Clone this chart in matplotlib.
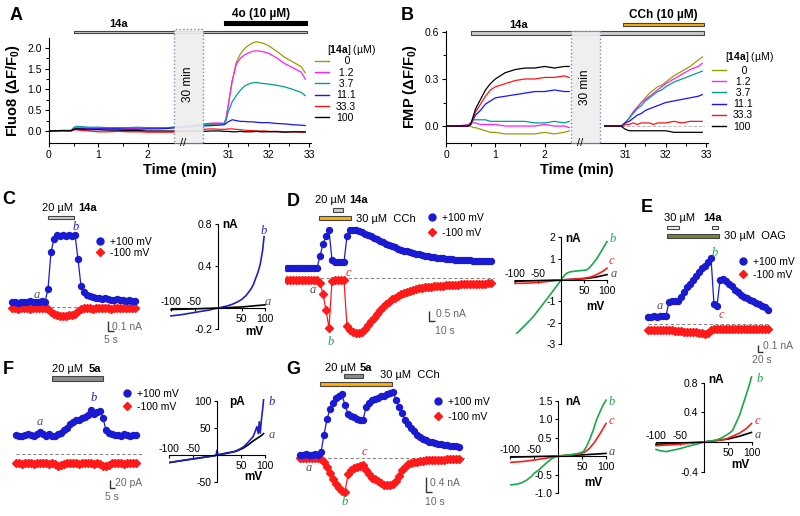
import numpy as np
import matplotlib
matplotlib.use('Agg')
import matplotlib.pyplot as plt
from matplotlib.patches import Rectangle
from matplotlib.lines import Line2D

plt.rcParams['font.family'] = ['Liberation Sans', 'DejaVu Sans']
plt.rcParams['mathtext.fontset'] = 'custom'
plt.rcParams['mathtext.rm'] = 'Liberation Sans'
plt.rcParams['mathtext.bf'] = 'Liberation Sans:bold'
plt.rcParams['axes.unicode_minus'] = False

# ---------------- A / B : plate reader traces ----------------
conc_labels = ['   0', ' 1.2', ' 3.7', '11.1', '33.3', '100']
conc_colors = ['#9c9c00', '#ff1cff', '#009c9c', '#1414ff', '#ff1414', '#000000']

t_early = [0, 0.25, 0.45, 0.5, 0.55, 0.6, 0.7, 0.8, 0.9, 1.0, 1.2, 1.4, 1.6, 1.8, 2.0, 2.2, 2.4, 2.5]
t_late_a = [30.4, 30.6, 30.8, 30.9, 30.95, 31.0, 31.1, 31.2, 31.3, 31.4, 31.5, 31.6, 31.7, 31.8,
            31.9, 32.0, 32.2, 32.4, 32.6, 32.8, 32.9]
t_late_b = [30.5, 30.7, 30.9, 30.95, 31.0, 31.1, 31.2, 31.3, 31.4, 31.5, 31.6, 31.7, 31.8, 31.9,
            32.0, 32.2, 32.4, 32.6, 32.8, 32.9]

fluo_early = [
    [0.00, 0.01, 0.01, 0.06, 0.08, 0.08, 0.08, 0.07, 0.07, 0.07, 0.07, 0.06, 0.07, 0.07, 0.07, 0.07, 0.07, 0.08],
    [0.00, 0.01, 0.01, 0.04, 0.05, 0.05, 0.06, 0.06, 0.06, 0.06, 0.06, 0.06, 0.06, 0.07, 0.07, 0.07, 0.08, 0.08],
    [0.00, 0.01, 0.01, 0.08, 0.11, 0.11, 0.10, 0.09, 0.09, 0.09, 0.08, 0.08, 0.08, 0.09, 0.08, 0.08, 0.08, 0.09],
    [0.00, 0.01, 0.00, 0.03, 0.05, 0.05, 0.05, 0.05, 0.05, 0.05, 0.05, 0.05, 0.04, 0.04, 0.05, 0.05, 0.06, 0.07],
    [0.00, 0.00, 0.00, 0.02, 0.03, 0.02, 0.01, 0.00, -0.01, -0.02, -0.02, -0.01, -0.02, -0.02, -0.03, -0.03, -0.03, -0.03],
    [0.00, 0.01, 0.01, 0.04, 0.05, 0.05, 0.04, 0.03, 0.03, 0.03, 0.02, 0.02, 0.01, 0.01, 0.00, 0.00, 0.00, 0.00],
]
fluo_late = [
    [0.15, 0.16, 0.17, 0.17, 0.30, 0.60, 1.20, 1.65, 1.85, 1.98, 2.06, 2.12, 2.15, 2.13, 2.10, 2.05, 1.92, 1.77, 1.66, 1.55, 1.40],
    [0.17, 0.19, 0.19, 0.18, 0.30, 0.60, 1.20, 1.60, 1.75, 1.83, 1.88, 1.92, 1.93, 1.92, 1.90, 1.87, 1.76, 1.62, 1.52, 1.42, 1.25],
    [0.15, 0.17, 0.18, 0.18, 0.25, 0.45, 0.70, 0.85, 0.98, 1.08, 1.13, 1.16, 1.17, 1.15, 1.14, 1.13, 1.10, 1.06, 1.00, 0.93, 0.85],
    [0.12, 0.13, 0.14, 0.15, 0.18, 0.22, 0.27, 0.25, 0.23, 0.23, 0.22, 0.22, 0.21, 0.20, 0.20, 0.20, 0.18, 0.17, 0.15, 0.14, 0.13],
    [0.04, 0.05, 0.04, 0.04, 0.04, 0.05, 0.05, 0.04, 0.03, 0.02, 0.01, 0.01, 0.00, 0.00, 0.00, -0.01, -0.01, -0.02, -0.02, -0.03, -0.03],
    [-0.01, 0.00, 0.00, -0.01, -0.01, -0.01, -0.02, -0.02, -0.01, -0.02, -0.02, -0.02, -0.01, -0.02, -0.02, -0.02, -0.02, -0.03, -0.02, -0.02, -0.02],
]
fmp_early = [
    [0.00, 0.00, 0.00, 0.00, -0.01, -0.01, -0.02, -0.03, -0.04, -0.04, -0.05, -0.05, -0.05, -0.05, -0.04, -0.05, -0.04, -0.03],
    [0.00, 0.00, 0.01, 0.02, 0.02, 0.02, 0.01, 0.01, 0.01, 0.01, 0.00, 0.00, 0.00, 0.00, 0.01, 0.00, 0.00, -0.01],
    [0.00, 0.00, 0.00, 0.02, 0.04, 0.04, 0.04, 0.04, 0.03, 0.03, 0.03, 0.03, 0.03, 0.02, 0.02, 0.03, 0.02, 0.03],
    [0.00, 0.00, 0.00, 0.01, 0.04, 0.07, 0.10, 0.14, 0.16, 0.18, 0.19, 0.20, 0.21, 0.22, 0.22, 0.23, 0.22, 0.22],
    [0.00, 0.00, 0.00, 0.01, 0.05, 0.09, 0.14, 0.19, 0.23, 0.25, 0.27, 0.29, 0.30, 0.30, 0.31, 0.31, 0.32, 0.31],
    [0.00, 0.00, 0.00, 0.01, 0.06, 0.11, 0.17, 0.23, 0.27, 0.30, 0.34, 0.36, 0.37, 0.37, 0.38, 0.37, 0.38, 0.38],
]
fmp_late = [
    [0.00, 0.00, 0.00, 0.01, 0.02, 0.05, 0.09, 0.12, 0.15, 0.18, 0.21, 0.23, 0.25, 0.26, 0.28, 0.32, 0.35, 0.38, 0.42, 0.44],
    [0.00, 0.00, 0.00, 0.01, 0.02, 0.05, 0.09, 0.12, 0.15, 0.17, 0.19, 0.21, 0.23, 0.25, 0.27, 0.30, 0.33, 0.36, 0.38, 0.40],
    [0.00, 0.00, 0.00, 0.01, 0.02, 0.05, 0.08, 0.11, 0.13, 0.16, 0.18, 0.20, 0.22, 0.23, 0.25, 0.28, 0.30, 0.32, 0.34, 0.35],
    [0.00, 0.00, 0.00, 0.01, 0.02, 0.03, 0.05, 0.07, 0.08, 0.10, 0.11, 0.12, 0.13, 0.14, 0.15, 0.16, 0.17, 0.18, 0.19, 0.20],
    [0.00, 0.00, 0.00, 0.00, 0.01, 0.01, 0.02, 0.01, 0.02, 0.02, 0.02, 0.01, 0.02, 0.02, 0.02, 0.03, 0.02, 0.03, 0.03, 0.03],
    [0.00, 0.00, 0.00, -0.01, -0.02, -0.03, -0.03, -0.03, -0.03, -0.03, -0.03, -0.03, -0.03, -0.03, -0.03, -0.04, -0.04, -0.04, -0.04, -0.04],
]

# ---------------- C-G : whole-cell currents at +/-100 mV (sampling step in s) ----------------
c_dt = 2.5
c_pos = [0.05, 0.05, 0.04, 0.05, 0.05, 0.05, 0.06, 0.05, 0.05, 0.05, 0.06, 0.05,
         0.18, 0.55, 0.68, 0.72, 0.71, 0.72, 0.71, 0.72, 0.71, 0.72,
         0.48, 0.21, 0.15, 0.12, 0.11, 0.10, 0.09, 0.09, 0.08, 0.09, 0.08, 0.07, 0.07, 0.08, 0.07, 0.07, 0.06, 0.07, 0.06, 0.06]
c_neg = [-0.01, -0.01, -0.02, -0.01, -0.01, -0.01, -0.02, -0.01, -0.01, -0.01, -0.01, -0.01,
         -0.02, -0.05, -0.07, -0.08, -0.09, -0.09, -0.09, -0.08, -0.08, -0.07, -0.04, -0.02,
         -0.01, -0.01, -0.01, -0.02, -0.01, -0.01, -0.01, -0.01, -0.01, -0.02, -0.01, -0.01, -0.01, -0.01, -0.01, -0.01, -0.01, -0.01]

d_dt = 5
d_pos = [0.50, 0.52, 0.50, 0.48, 0.50, 0.50, 0.52, 0.50, 0.50, 0.50, 0.52,
         1.10, 1.70, 2.10, 2.40, 0.90,
         0.80, 0.78, 0.78, 0.80,
         2.10, 2.40, 2.42, 2.38, 2.33, 2.28, 2.22, 2.15, 2.08, 2.00, 1.93,
         1.85, 1.78, 1.72, 1.66, 1.60, 1.53, 1.47, 1.42, 1.37, 1.33, 1.29, 1.24, 1.21, 1.18, 1.15,
         1.12, 1.09, 1.07, 1.05, 1.02, 1.00, 0.98, 0.96, 0.95, 0.93, 0.92, 0.91, 0.90, 0.90, 0.88,
         0.88, 0.87, 0.86, 0.86, 0.85, 0.86, 0.85, 0.85]
d_neg = [-0.10, -0.08, -0.10, -0.12, -0.10, -0.10, -0.08, -0.10, -0.10, -0.12, -0.12,
         -0.25, -0.80, -1.60, -2.50, -0.15,
         -0.12, -0.10, -0.10, -0.12,
         -2.40, -2.62, -2.72, -2.77, -2.75, -2.70, -2.55, -2.35, -2.15, -1.98,
         -1.80, -1.60, -1.45, -1.32, -1.20, -1.07, -0.98, -0.90, -0.82, -0.74,
         -0.68, -0.63, -0.59, -0.55, -0.52, -0.50, -0.47, -0.45, -0.43, -0.41,
         -0.40, -0.39, -0.38, -0.36, -0.35, -0.34, -0.33, -0.33, -0.32, -0.32,
         -0.31, -0.30, -0.30, -0.29, -0.29, -0.28, -0.28, -0.27, -0.27]

e_dt = 12
e_pos = [0.11, 0.11, 0.12, 0.11, 0.12, 0.12, 0.13, 0.34, 0.36, 0.36, 0.35,
         0.42, 0.50, 0.57, 0.62, 0.67, 0.74, 0.80, 0.86, 0.90, 0.96, 1.02,
         0.30, 0.27,
         0.68, 0.70, 0.66, 0.61, 0.58, 0.53, 0.49, 0.45, 0.42, 0.40, 0.37, 0.35, 0.33, 0.31, 0.28, 0.26, 0.22]
e_neg = [-0.09, -0.09, -0.10, -0.09, -0.09, -0.09, -0.10, -0.10, -0.10, -0.11, -0.11,
         -0.11, -0.12, -0.12, -0.12, -0.13, -0.13, -0.14, -0.14, -0.15, -0.14,
         -0.09, -0.08, -0.08, -0.08, -0.08, -0.08, -0.08, -0.08, -0.08, -0.08,
         -0.08, -0.08, -0.08, -0.08, -0.08, -0.08, -0.08, -0.08, -0.08, -0.08]

f_dt = 3
f_pos = [45, 44, 42, 46, 48, 45, 44, 47, 52, 48, 44, 48, 42, 43, 47, 50, 56, 62, 72, 76, 80,
         82, 86, 89, 92, 105, 96, 100, 102, 85, 57, 50, 47, 45, 46, 44, 47, 45, 44, 46, 45]
f_neg = [-22, -21, -23, -22, -21, -22, -23, -22, -21, -22, -22, -23, -22, -24, -28, -27, -24, -22, -21, -22, -22,
         -23, -22, -21, -22, -22, -23, -22, -24, -28, -29, -25, -22, -22, -21, -22, -23, -22, -21, -22, -22]

g_dt = 5
g_pos = [0.09, 0.09, 0.10, 0.09, 0.09, 0.10, 0.09,
         0.15, 0.60, 1.00, 1.25, 1.42, 1.55, 1.60, 1.63,
         1.35, 1.13, 1.08, 1.04, 1.00, 0.98, 0.97,
         1.30, 1.42, 1.48, 1.52, 1.55, 1.58, 1.60, 1.63, 1.66, 1.70,
         1.50, 1.32, 1.15, 0.98, 0.88, 0.78, 0.68, 0.59, 0.53, 0.48,
         0.45, 0.42, 0.40, 0.38, 0.36, 0.35, 0.34, 0.33, 0.32, 0.31, 0.30, 0.29]
g_neg = [0.00, -0.01, 0.00, -0.01, 0.00, 0.00, -0.01,
         -0.02, -0.10, -0.22, -0.38, -0.55, -0.66, -0.76, -0.84, -0.86,
         -0.42, -0.32, -0.26, -0.22, -0.20, -0.18,
         -0.30, -0.42, -0.50, -0.55, -0.60, -0.65, -0.68, -0.69, -0.68, -0.66,
         -0.58, -0.45, -0.32, -0.22, -0.16, -0.12, -0.10, -0.09, -0.08, -0.07,
         -0.06, -0.06, -0.05, -0.05, -0.04, -0.04, -0.04, -0.03, -0.03, -0.03, -0.03, -0.03]

# ---------------- I-V ramps ----------------
iv_c_v_b = [-100, -80, -60, -40, -20, 0, 20, 30, 40, 50, 60, 70, 75, 80, 85, 90, 95, 98]
iv_c_i_b = [-0.075, -0.065, -0.05, -0.035, -0.02, 0.0, 0.02, 0.035, 0.055, 0.08, 0.12, 0.18, 0.22, 0.28, 0.34, 0.42, 0.55, 0.68]
iv_c_v_a = [-100, -50, 0, 50, 100]
iv_c_i_a = [-0.015, -0.008, 0.0, 0.01, 0.03]

iv_d_v_b = [-96, -80, -60, -40, -24, -10, 0, 6, 12, 20, 34, 45, 56, 63, 70, 78, 85, 92, 100]
iv_d_i_b = [-2.49, -2.15, -1.71, -1.15, -0.70, -0.30, 0.0, 0.18, 0.31, 0.38, 0.42, 0.44, 0.47, 0.60, 0.78, 1.00, 1.25, 1.50, 1.79]
iv_d_v_c = [-100, -75, -50, -25, 0, 25, 50, 65, 75, 85, 92, 100]
iv_d_i_c = [-0.16, -0.15, -0.12, -0.06, 0.0, 0.03, 0.08, 0.14, 0.23, 0.33, 0.42, 0.55]
iv_d_v_a = [-100, -50, 0, 50, 75, 100]
iv_d_i_a = [-0.06, -0.03, 0.0, 0.06, 0.13, 0.25]

iv_e_v_b = [-100, -90, -78, -65, -50, -35, -22, -10, 0, 15, 26, 38, 47, 55, 60, 67, 74, 81, 88, 94, 99]
iv_e_i_b = [-0.10, -0.12, -0.13, -0.11, -0.09, -0.06, -0.04, -0.02, 0.0, 0.015, 0.027, 0.06, 0.095, 0.13, 0.16, 0.26, 0.36, 0.50, 0.64, 0.76, 0.88]
iv_e_v_c = [-100, -75, -50, -25, 0, 25, 46, 60, 74, 88, 99]
iv_e_i_c = [-0.05, -0.04, -0.03, -0.015, 0.0, 0.02, 0.04, 0.08, 0.12, 0.18, 0.25]
iv_e_v_a = [-100, -50, 0, 50, 75, 99]
iv_e_i_a = [-0.03, -0.015, 0.0, 0.04, 0.08, 0.13]

iv_f_v_b = [-98, -85, -70, -55, -40, -25, -10, -2, 0, 2, 10, 20, 35, 45, 55, 62, 69, 75, 80, 83, 86, 88, 90, 93, 95, 97]
iv_f_i_b = [-14, -12, -10, -8, -6, -4, -2, -1, 9, 0, 2, 4, 6, 10, 15, 21, 28, 34, 45, 53, 40, 62, 41, 70, 85, 103]
iv_f_v_a = [-98, -70, -40, -10, 0, 20, 40, 55, 65, 75, 85, 92, 97]
iv_f_i_a = [-14, -10, -6, -2, 0, 3, 7, 13, 19, 26, 32, 36, 40]

iv_g_v_b = [-98, -85, -75, -65, -55, -50, -40, -33, -25, -12, 0, 15, 30, 45, 53, 60, 67, 74, 80, 87, 94, 100]
iv_g_i_b = [-0.78, -0.76, -0.72, -0.65, -0.55, -0.47, -0.38, -0.29, -0.20, -0.06, 0.0, 0.02, 0.04, 0.08, 0.12, 0.27, 0.48, 0.72, 0.97, 1.18, 1.38, 1.51]
iv_g_v_c = [-98, -75, -50, -25, 0, 25, 45, 55, 65, 75, 85, 92, 100]
iv_g_i_c = [-0.17, -0.15, -0.11, -0.06, 0.0, 0.03, 0.06, 0.10, 0.20, 0.35, 0.55, 0.70, 0.88]
iv_g_v_a = [-98, -50, 0, 50, 100]
iv_g_i_a = [-0.03, -0.015, 0.0, 0.03, 0.07]

BLUE = '#1a1ad2'
RED = '#ff1a1a'
GREEN = '#19a84a'
GREY_TXT = '#555555'
ORANGE = '#ffb000'

W, H = 800, 516
fig = plt.figure(figsize=(8, 5.16), dpi=100)


def px_axes(l, t, r, b):
    ax = fig.add_axes([l / W, 1 - b / H, (r - l) / W, (b - t) / H])
    ax.patch.set_visible(False)
    return ax


def ftext(x, y, s, **kw):
    fig.text(x / W, 1 - y / H, s, **kw)


def letter(ax, x, y, s, color):
    ax.text(x, y, s, color=color, fontfamily='Liberation Serif', style='italic',
            fontsize=9, ha='center', va='center')


def bar(ax, x0, x1, y0, h, fc, ec='#444444'):
    ax.add_patch(Rectangle((x0, y0), x1 - x0, h, facecolor=fc, edgecolor=ec, lw=0.8,
                           clip_on=False, zorder=4))


# broken time axis for A and B (0-2.5 min | 30 min gap | 30.4-33 min)
TB = [-10.0, 2.53, 30.375, 40.0]
UB = [-10.0 * 49.3, 2.53 * 49.3, 2.53 * 49.3 + 29.0, 2.53 * 49.3 + 29.0 + 9.625 * 40.6]


def fwd(t):
    return np.interp(t, TB, UB)


def inv(u):
    return np.interp(u, UB, TB)


AX_W = float(fwd(33.05) - fwd(0))


def time_axes(ax, ylim, yticks, ylabels, yminor, box_top, box_text_y, ylabel):
    ax.set_xlim(0, 33.05)
    ax.set_ylim(*ylim)
    for s in ('top', 'right'):
        ax.spines[s].set_visible(False)
    ax.set_xticks([0, 1, 2, 31, 32, 33], ['0', '1', '2', '31', '32', '33'])
    ax.set_xticks([0.5, 1.5, 31.5, 32.5], minor=True)
    ax.set_yticks(yticks, ylabels)
    ax.set_yticks(yminor, minor=True)
    ax.tick_params(labelsize=7.5, length=3, width=0.8, pad=2)
    ax.tick_params(which='minor', length=2, width=0.7)
    ax.set_xlabel('Time (min)', fontsize=10.5, fontweight='bold', labelpad=2)
    ax.set_ylabel(ylabel, fontsize=10.5, fontweight='bold', labelpad=4)
    ax.add_patch(Rectangle((2.53, ylim[0]), 30.375 - 2.53, box_top - ylim[0], facecolor='#eeeeee',
                           edgecolor='#6f86a8', lw=1.0, ls=':', alpha=0.93, clip_on=False, zorder=6))
    ax.text(16.45, box_text_y, '30 min', rotation=90, fontsize=8.5, ha='center', va='center', zorder=7)
    ax.text(11.2, ylim[0], '//', fontsize=8, ha='center', va='center', zorder=7, clip_on=False)


# ---- panel A ----
axA = px_axes(49, 38, 49 + AX_W, 143)
axA.set_xscale('function', functions=(fwd, inv))
for row_e, row_l, col in zip(fluo_early, fluo_late, conc_colors):
    axA.plot(t_early + t_late_a, row_e + row_l, color=col, lw=0.9)
time_axes(axA, (-0.29, 2.24), [0, 0.5, 1, 1.5, 2], ['0.0', '0.5', '1.0', '1.5', '2.0'],
          [0.25, 0.75, 1.25, 1.75], 2.45, 1.13, 'Fluo8 (ΔF/F$_\\mathbf{0}$)')
bar(axA, 0.5, 32.95, 2.35, 0.065, '#cccccc')
bar(axA, 30.9, 32.95, 2.55, 0.1, '#000000', ec='#000000')
axA.text(1.42, 2.57, '14a', fontsize=8, fontweight='bold', ha='center', va='center')
axA.text(31.8, 2.81, '4o (10 µM)', fontsize=8.5, fontweight='bold', ha='center', va='center')

# ---- panel B ----
axB = px_axes(446, 31, 446 + AX_W, 143)
axB.set_xscale('function', functions=(fwd, inv))
axB.hlines(0, 30.9, 32.95, colors='#bbbbbb', linestyles='--', lw=0.7)
for row_e, row_l, col in zip(fmp_early, fmp_late, conc_colors):
    axB.plot(t_early, row_e, color=col, lw=0.9)
    axB.plot(t_late_b, row_l, color=col, lw=0.9)
time_axes(axB, (-0.108, 0.606), [0, 0.3, 0.6], ['0.0', '0.3', '0.6'],
          [0.15, 0.45], 0.606, 0.25, 'FMP (ΔF/F$_\\mathbf{0}$)')
bar(axB, 0.5, 32.95, 0.58, 0.025, '#cccccc')
bar(axB, 30.94, 32.95, 0.637, 0.02, ORANGE)
axB.text(1.48, 0.645, '14a', fontsize=8, fontweight='bold', ha='center', va='center')
axB.text(31.95, 0.708, 'CCh (10 µM)', fontsize=8.5, fontweight='bold', ha='center', va='center')

# concentration legends
handles = [Line2D([], [], color=c, lw=1.0) for c in conc_colors]
for lx, ly, tx, ty in ((315, 56.5, 351, 50), (712, 65.5, 749, 57)):
    fig.legend(handles, conc_labels, loc='upper left', bbox_to_anchor=(lx / W, 1 - ly / H),
               frameon=False, fontsize=7.5, handlelength=1.3, handletextpad=0.7,
               labelspacing=0.12, borderpad=0, borderaxespad=0)
    ftext(tx, ty, '[$\\mathbf{14a}$] (µM)', fontsize=7.5, ha='center', va='center')

# ---- current-trace panels ----
mv_handles = [Line2D([], [], color=BLUE, marker='o', ls='none', ms=5),
              Line2D([], [], color=RED, marker='D', ls='none', ms=4)]


def trace_axes(box, xlim, ylim, dt, pos, neg, zero_end, leg_xy, leg_space):
    ax = px_axes(*box)
    ax.set_xlim(*xlim)
    ax.set_ylim(*ylim)
    ax.axis('off')
    ax.hlines(0, 0, zero_end, colors='#888888', linestyles=(0, (3, 2)), lw=0.8, zorder=1)
    ax.plot(dt * np.arange(len(neg)), neg, color=RED, lw=0.9, marker='D', ms=3.8, zorder=2)
    ax.plot(dt * np.arange(len(pos)), pos, color=BLUE, lw=0.9, marker='o', ms=4.3, zorder=3)
    ax.legend(mv_handles, ['+100 mV', '-100 mV'], loc='upper left',
              bbox_to_anchor=(leg_xy[0] / W, 1 - leg_xy[1] / H), bbox_transform=fig.transFigure,
              frameon=False, fontsize=7.5, handlelength=0.8, handletextpad=0.5,
              labelspacing=leg_space, borderpad=0, borderaxespad=0)
    return ax


def scalebar(ax, x, y, dx, dy, ylab, xlab, ylab_xy, xlab_xy):
    ax.plot([x, x, x + dx], [y + dy, y, y], color='#333333', lw=1.0, solid_capstyle='butt')
    ax.text(ylab_xy[0], ylab_xy[1], ylab, color='#666666', fontsize=7.5, ha='left', va='center')
    ax.text(xlab_xy[0], xlab_xy[1], xlab, color='#666666', fontsize=7.5, ha='center', va='center')


def iv_axes(box, xlim, ylim, yticks, ylabels, ybounds, unit, unit_xy, mv_xy):
    ax = px_axes(*box)
    ax.set_xlim(*xlim)
    ax.set_ylim(*ylim)
    for s in ('top', 'right'):
        ax.spines[s].set_visible(False)
    ax.spines['left'].set_position(('data', 0))
    ax.spines['bottom'].set_position(('data', 0))
    ax.spines['left'].set_bounds(*ybounds)
    ax.spines['bottom'].set_bounds(-100, 100)
    ax.set_yticks(yticks, ylabels)
    ax.set_xticks([-100, -50, 50, 100], ['', '', '50', '100'])
    ax.tick_params(labelsize=7.5, length=2.5, width=0.8, pad=1.5)
    for v in (-100, -50):
        ax.annotate(str(v), (v, 0), xytext=(0, 1.0), textcoords='offset points',
                    ha='center', va='bottom', fontsize=7.5)
    ax.text(unit_xy[0], unit_xy[1], unit, fontweight='bold', fontsize=8.5, ha='left', va='center')
    ax.text(mv_xy[0], mv_xy[1], 'mV', fontweight='bold', fontsize=8.5, ha='center', va='center')
    return ax


# ---- panel C ----
axC = trace_axes((5, 195, 150, 350), (-5.83, 115), (-0.43, 1.12), c_dt, c_pos, c_neg, 107,
                 (96, 237), 0.1)
bar(axC, 30, 51.7, 0.88, 0.03, '#cccccc')
axC.text(37.9, 0.99, '20 µM', fontsize=8, ha='center', va='center')
axC.text(63, 0.99, '14a', fontsize=8, fontweight='bold', ha='center', va='center')
letter(axC, 20.8, 0.12, 'a', GREY_TXT)
letter(axC, 53.3, 0.8, 'b', BLUE)
scalebar(axC, 80, -0.24, 5, 0.1, '0.1 nA', '5 s', (83.3, -0.20), (82.5, -0.33))

ivC = iv_axes((165, 220, 272, 335), (-112.8, 114.9), (-0.257, 0.838), [-0.2, 0.4, 0.8],
              ['-0.2', '0.4', '0.8'], (-0.2, 0.8), 'nA', (10, 0.79), (77, -0.23))
ivC.plot(iv_c_v_a, iv_c_i_a, color='k', lw=1.2)
ivC.plot(iv_c_v_b, iv_c_i_b, color='#2020c0', lw=1.2)
letter(ivC, 97, 0.73, 'b', '#2020c0')
letter(ivC, 105, 0.06, 'a', GREY_TXT)

# ---- panel D ----
axD = trace_axes((285, 195, 500, 350), (-3.33, 355), (-3.6, 4.15), d_dt, d_pos, d_neg, 345,
                 (428, 213), 0.45)
bar(axD, 76.7, 93.3, 3.3, 0.2, '#cccccc')
bar(axD, 53.3, 106.7, 2.9, 0.2, ORANGE)
axD.text(71.7, 3.9, '20 µM', fontsize=8, ha='center', va='center')
axD.text(120, 3.9, '14a', fontsize=8, fontweight='bold', ha='center', va='center')
axD.text(115, 2.93, '30 µM  CCh', fontsize=8, ha='left', va='center')
letter(axD, 42.8, -0.6, 'a', GREY_TXT)
letter(axD, 72.8, -3.18, 'b', GREEN)
letter(axD, 102, 0.23, 'c', RED)
scalebar(axD, 236.7, -2.15, 10, 0.5, '0.5 nA', '10 s', (249, -1.82), (263, -2.65))

ivD = iv_axes((510, 235, 615, 350), (-110.9, 117.4), (-3.27, 2.1), [-3, -2, -1, 1, 2],
              ['-3', '-2', '-1', '1', '2'], (-3, 2), 'nA', (8.7, 1.92), (74, -1.26))
ivD.plot(iv_d_v_a, iv_d_i_a, color='k', lw=1.2)
ivD.plot(iv_d_v_c, iv_d_i_c, color=RED, lw=1.2)
ivD.plot(iv_d_v_b, iv_d_i_b, color=GREEN, lw=1.2)
letter(ivD, 112, 1.9, 'b', GREEN)
letter(ivD, 109, 0.9, 'c', RED)
letter(ivD, 114, 0.3, 'a', GREY_TXT)

# ---- panel E ----
axE = trace_axes((640, 200, 790, 365), (-32, 568), (-0.631, 1.908), e_dt, e_pos, e_neg, 488,
                 (739, 257), 0.3)
bar(axE, 77, 125, 1.46, 0.05, '#f2f2f2')
bar(axE, 257, 281, 1.46, 0.05, '#f2f2f2')
bar(axE, 77, 285, 1.33, 0.05, '#6f8a2e')
axE.text(128, 1.63, '30 µM', fontsize=8, ha='center', va='center')
axE.text(258, 1.63, '14a', fontsize=8, fontweight='bold', ha='center', va='center')
axE.text(304, 1.36, '30 µM  OAG', fontsize=8, ha='left', va='center')
letter(axE, 48, 0.28, 'a', GREY_TXT)
letter(axE, 265, 1.09, 'b', GREEN)
letter(axE, 295, 0.14, 'c', RED)
scalebar(axE, 441, -0.43, 20, 0.1, '0.1 nA', '20 s', (461, -0.34), (455, -0.55))

ivE = iv_axes((650, 375, 760, 478), (-112.5, 116.7), (-0.486, 0.905), [-0.4, 0.4, 0.8],
              ['-0.4', '0.4', '0.8'], (-0.4, 0.8), 'nA', (8.3, 0.84), (75, -0.31))
ivE.plot(iv_e_v_a, iv_e_i_a, color='k', lw=1.2)
ivE.plot(iv_e_v_c, iv_e_i_c, color=RED, lw=1.2)
ivE.plot(iv_e_v_b, iv_e_i_b, color=GREEN, lw=1.2)
letter(ivE, 115, 0.85, 'b', GREEN)
letter(ivE, 112, 0.28, 'c', RED)
letter(ivE, 113, 0.1, 'a', GREY_TXT)

# ---- panel F ----
axF = trace_axes((5, 360, 150, 505), (-11, 134), (-121.4, 223.8), f_dt, f_pos, f_neg, 127,
                 (123, 389), 0.3)
bar(axF, 36, 87, 173.8, 11.9, '#8c8c8c')
axF.text(51, 202, '20 µM', fontsize=8, ha='center', va='center')
axF.text(79, 202, '5a', fontsize=8, fontweight='bold', ha='center', va='center')
letter(axF, 23.3, 77, 'a', GREY_TXT)
letter(axF, 77.3, 132.5, 'b', BLUE)
scalebar(axF, 94, -82, 5, 20, '20 pA', '5 s', (99, -70), (95.7, -101.6))

ivF = iv_axes((165, 395, 275, 490), (-108.3, 120.8), (-65.4, 112.1), [-50, 50, 100],
              ['-50', '50', '100'], (-50, 100), 'pA', (25, 99.6), (75, -42))
ivF.plot(iv_f_v_a, iv_f_i_a, color='k', lw=1.2)
ivF.plot(iv_f_v_b, iv_f_i_b, color='#2020c0', lw=1.2)
letter(ivF, 114, 99.6, 'b', '#2020c0')
letter(ivF, 114, 37, 'a', GREY_TXT)

# ---- panel G ----
axG = trace_axes((290, 360, 480, 510), (-16.67, 300), (-1.333, 2.513), g_dt, g_pos, g_neg, 278,
                 (434, 397), 0.45)
bar(axG, 73.3, 105, 2.05, 0.1, '#8c8c8c')
bar(axG, 33.3, 153.3, 1.85, 0.1, ORANGE)
axG.text(66.7, 2.32, '20 µM', fontsize=8, ha='center', va='center')
axG.text(110, 2.32, '5a', fontsize=8, fontweight='bold', ha='center', va='center')
axG.text(133, 2.13, '30 µM  CCh', fontsize=8, ha='left', va='center')
letter(axG, 14, -0.26, 'a', GREY_TXT)
letter(axG, 75, -1.12, 'b', GREEN)
letter(axG, 108, 0.15, 'c', RED)
scalebar(axG, 209.4, -0.88, 10, 0.4, '0.4 nA', '10 s', (216.7, -0.65), (225, -1.12))

ivG = iv_axes((505, 395, 615, 498), (-110.4, 118.75), (-1.135, 1.65), [-1.0, -0.5, 0.5, 1.0, 1.5],
              ['-1.0', '-0.5', '0.5', '1.0', '1.5'], (-1.0, 1.5), 'nA', (14.6, 1.47), (73, -0.73))
ivG.plot(iv_g_v_a, iv_g_i_a, color='k', lw=1.2)
ivG.plot(iv_g_v_c, iv_g_i_c, color=RED, lw=1.2)
ivG.plot(iv_g_v_b, iv_g_i_b, color=GREEN, lw=1.2)
letter(ivG, 112, 1.46, 'b', GREEN)
letter(ivG, 112, 0.95, 'c', RED)
letter(ivG, 112, 0.11, 'a', GREY_TXT)

# panel letters
for lx, ly, s in ((16, 16, 'A'), (407, 16, 'B'), (9, 200, 'C'), (293, 201, 'D'),
                  (647, 207, 'E'), (8, 370, 'F'), (293, 370, 'G')):
    ftext(lx, ly, s, fontsize=13, fontweight='bold', ha='center', va='center')

fig.savefig('out.png', dpi=100)
